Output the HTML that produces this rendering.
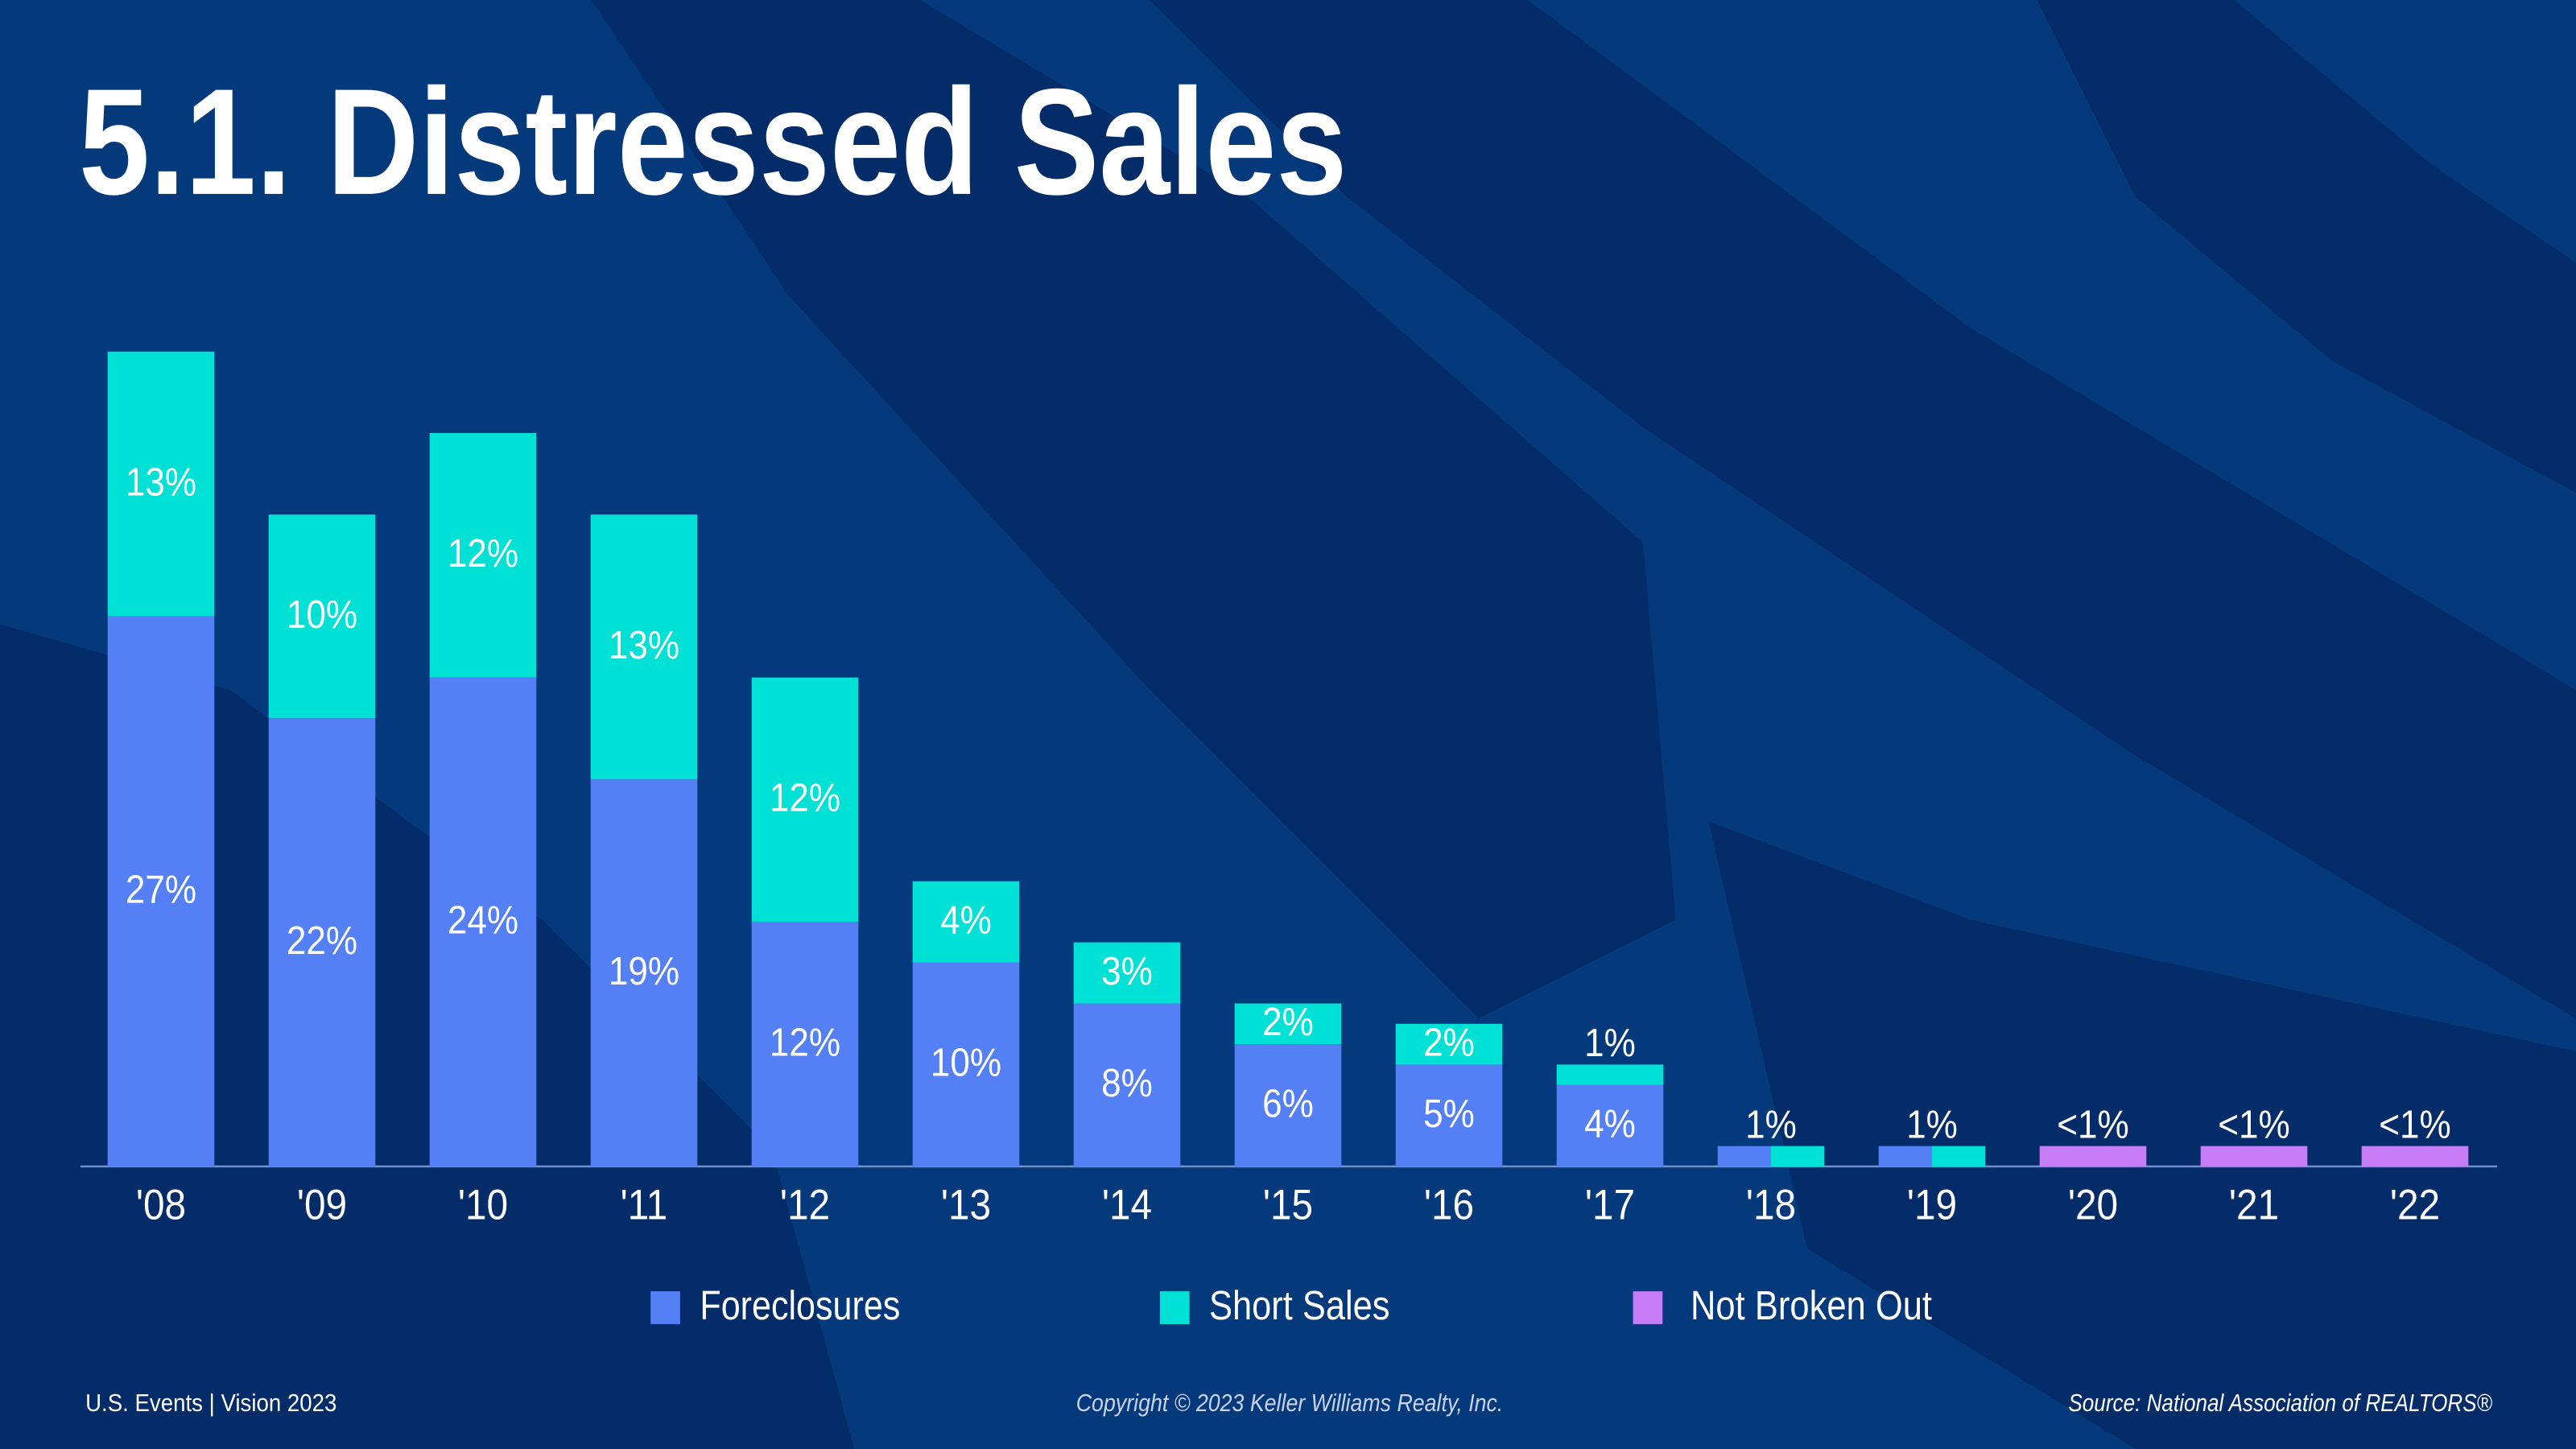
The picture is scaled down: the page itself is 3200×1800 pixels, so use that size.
<!DOCTYPE html>
<html><head><meta charset="utf-8"><style>
html,body{margin:0;padding:0;background:#043a7b;}
svg{display:block;}
text{font-family:"Liberation Sans Narrow","Liberation Sans",sans-serif;fill:#fff;}
</style></head><body>
<svg id="chart" width="3200" height="1800" viewBox="0 0 1568 882" xmlns="http://www.w3.org/2000/svg">
<rect width="1568" height="882" fill="#043a7b"/>
<g fill="#032c69">
<polygon points="360,0 560,0 760,120 1000,330 1020,560 900,620 700,420 480,180"/>
<polygon points="700,0 930,0 1200,200 1568,420 1568,620 1300,460 1000,260 820,120"/>
<polygon points="1240,0 1360,0 1480,100 1568,160 1568,300 1420,220 1300,120"/>
<polygon points="0,380 140,420 330,560 470,700 520,882 0,882"/>
<polygon points="1040,500 1200,560 1568,640 1568,882 1300,882 1100,760"/>
</g>
<text x="48" y="118" font-size="92" font-weight="bold" textLength="772" lengthAdjust="spacingAndGlyphs">5.1. Distressed Sales</text>
<line x1="49" y1="710" x2="1520" y2="710" stroke="#6f8fc9" stroke-width="1.2"/>
<g id="bars"></g>
<g>
<rect x="396" y="786" width="18" height="20" fill="#5580f5"/>
<text x="426" y="803" font-size="25" textLength="122" lengthAdjust="spacingAndGlyphs">Foreclosures</text>
<rect x="706" y="786" width="18" height="20" fill="#00e0d4"/>
<text x="736" y="803" font-size="25" textLength="110" lengthAdjust="spacingAndGlyphs">Short Sales</text>
<rect x="994" y="786" width="18" height="20" fill="#c57cf5"/>
<text x="1029" y="803" font-size="25" textLength="147" lengthAdjust="spacingAndGlyphs">Not Broken Out</text>
</g>
<text x="52" y="859" font-size="15" textLength="153" lengthAdjust="spacingAndGlyphs">U.S. Events  |  Vision 2023</text>
<text x="655" y="859" font-size="15" font-style="italic" style="fill:#c8d2e8" textLength="260" lengthAdjust="spacingAndGlyphs">Copyright © 2023 Keller Williams Realty, Inc.</text>
<text x="1259" y="859" font-size="15" font-style="italic" textLength="258" lengthAdjust="spacingAndGlyphs">Source: National Association of REALTORS®</text>
</svg>
<script>
const years = ["'08","'09","'10","'11","'12","'13","'14","'15","'16","'17","'18","'19","'20","'21","'22"];
const foreclosures = [27,22,24,19,12,10,8,6,5,4,0.5,0.5,0,0,0];
const shortSales = [13,10,12,13,12,4,3,2,2,1,0.5,0.5,0,0,0];
const notBrokenOut = [0,0,0,0,0,0,0,0,0,0,0,0,1,1,1];
const foreLabels = ["27%","22%","24%","19%","12%","10%","8%","6%","5%","4%","","","","",""];
const shortLabels = ["13%","10%","12%","13%","12%","4%","3%","2%","2%","1%","","","","",""];
const topLabels = ["","","","","","","","","","","1%","1%","<1%","<1%","<1%"];
const splitYears = ["'18","'19"];

const NS="http://www.w3.org/2000/svg";
const g=document.getElementById('bars');
const base=710, perPct=12.4, x0=98, step=98, bw=65;
const yS=v=>base-v*perPct;
const xC=i=>x0+i*step;
function mk(tag,attrs){const e=document.createElementNS(NS,tag);for(const k in attrs)e.setAttribute(k,attrs[k]);g.appendChild(e);return e;}
function label(x,y,txt,size){const t=mk('text',{x:x,y:y,'font-size':size,'text-anchor':'middle',transform:'translate('+x+' 0) scale(0.9 1) translate('+(-x)+' 0)'});t.textContent=txt;return t;}
years.forEach((yr,i)=>{
  const cx=xC(i), left=cx-bw/2;
  const f=foreclosures[i], s=shortSales[i], n=notBrokenOut[i];
  let topY;
  if(splitYears.includes(yr)){
    const tot=f+s;
    topY=yS(tot);
    const r1=mk('rect',{x:left,y:topY,width:bw/2,height:base-topY,fill:'#5580f5'});
    
    
    const r2=mk('rect',{x:cx,y:topY,width:bw/2,height:base-topY,fill:'#00e0d4'});
    
    
  } else if(n>0){
    topY=yS(n);
    const r=mk('rect',{x:left,y:topY,width:bw,height:base-topY,fill:'#c57cf5'});
    
    
  } else {
    const fy=yS(f), sy=yS(f+s);
    topY=sy;
    const r1=mk('rect',{x:left,y:fy,width:bw,height:base-fy,fill:'#5580f5'});
    
    
    const r2=mk('rect',{x:left,y:sy,width:bw,height:fy-sy,fill:'#00e0d4'});
    
    
    if(foreLabels[i]){const t=label(cx,(fy+base)/2+7,foreLabels[i],24);
      
      }
    if(shortLabels[i]){
      const h=fy-sy;
      const ty=h>20?(sy+fy)/2+7:sy-5;
      const t=label(cx,ty,shortLabels[i],24);
      
      }
  }
  if(topLabels[i]){const t=label(cx,topY-5,topLabels[i],24);
    
    }
  const tk=label(cx,742,yr,26);
  
  
});
</script>
</body></html>
